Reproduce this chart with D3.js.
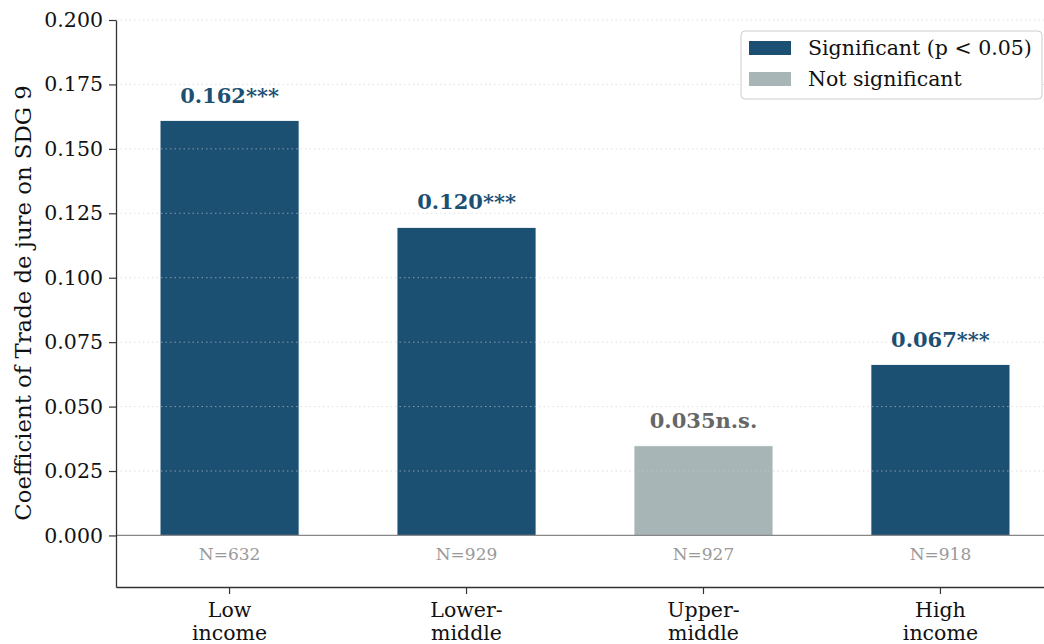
<!DOCTYPE html>
<html>
<head>
<meta charset="utf-8">
<script src="https://cdn.jsdelivr.net/npm/d3@7"></script>
<style>
  body { margin: 0; background: #fff; }
  svg { display: block; }
</style>
</head>
<body>
<div id="chart"></div>
<script>
// Data
var groups = [["Low", "income"], ["Lower-", "middle"], ["Upper-", "middle"], ["High", "income"]];
var coefs = [0.161, 0.1195, 0.0348, 0.0663];
var coefLabels = ["0.162***", "0.120***", "0.035n.s.", "0.067***"];
var significant = [true, true, false, true];
var sampleSizes = [632, 929, 927, 918];
var yTicks = [0, 0.025, 0.05, 0.075, 0.1, 0.125, 0.15, 0.175, 0.2];

var width = 1044, height = 644;
// plot area runs a little past the right edge of the picture
var m = { left: 116, top: 20, right: -10, bottom: 57 };

var colSig = "#1c5073", colNs = "#a8b5b6";
var serif = "DejaVu Serif, serif";
var fs = "20.5px";

var svg = d3.select("#chart").append("svg")
    .attr("width", width)
    .attr("height", height);

var x = d3.scaleBand()
    .domain(d3.range(groups.length))
    .range([m.left, width - m.right])
    .paddingInner(0.4135)
    .paddingOuter(0.186);

var y = d3.scaleLinear()
    .domain([-0.02, 0.2])
    .range([height - m.bottom, m.top]);

// bars
svg.selectAll("rect.bar")
    .data(coefs)
    .enter().append("rect")
    .attr("class", "bar")
    .attr("x", function(d, i) { return x(i); })
    .attr("width", x.bandwidth())
    .attr("y", function(d) { return y(d); })
    .attr("height", function(d) { return y(0) - y(d); })
    .attr("fill", function(d, i) { return significant[i] ? colSig : colNs; })
    .attr("stroke", "#fff")
    .attr("stroke-width", 0.8);

// dotted grid (drawn over bars, faint)
svg.append("g")
    .selectAll("line")
    .data(yTicks)
    .enter().append("line")
    .attr("x1", m.left).attr("x2", width)
    .attr("y1", function(d) { return y(d); })
    .attr("y2", function(d) { return y(d); })
    .attr("stroke", "#cccccc")
    .attr("stroke-opacity", 0.6)
    .attr("stroke-dasharray", "1.5,3");

// zero line
svg.append("line")
    .attr("x1", m.left).attr("x2", width)
    .attr("y1", y(0)).attr("y2", y(0))
    .attr("stroke", "#888")
    .attr("stroke-width", 1.2);

// coefficient labels
svg.selectAll("text.coef")
    .data(coefs)
    .enter().append("text")
    .attr("class", "coef")
    .attr("x", function(d, i) { return x(i) + x.bandwidth() / 2; })
    .attr("y", function(d) { return y(d) - 18; })
    .attr("text-anchor", "middle")
    .style("font-family", serif)
    .style("font-size", "21px")
    .style("font-weight", "bold")
    .attr("fill", function(d, i) { return significant[i] ? "#1c5073" : "#666666"; })
    .text(function(d, i) { return coefLabels[i]; });

// N labels
svg.selectAll("text.n")
    .data(sampleSizes)
    .enter().append("text")
    .attr("class", "n")
    .attr("x", function(d, i) { return x(i) + x.bandwidth() / 2; })
    .attr("y", y(0) + 25)
    .attr("text-anchor", "middle")
    .style("font-family", serif)
    .style("font-size", "17px")
    .attr("fill", "#999")
    .text(function(d) { return "N=" + d; });

// y axis
var yAxis = svg.append("g")
    .attr("transform", "translate(" + m.left + ",0)")
    .call(d3.axisLeft(y).tickValues(yTicks).tickFormat(d3.format(".3f"))
      .tickSize(7).tickSizeOuter(0).tickPadding(6));
yAxis.select(".domain").attr("stroke", "#333").attr("stroke-width", 1.3);
yAxis.selectAll(".tick line").attr("stroke", "#333").attr("stroke-width", 1.2);
yAxis.selectAll("text")
    .style("font-family", serif)
    .style("font-size", fs)
    .attr("fill", "#111");

// x axis
var xAxis = svg.append("g")
    .attr("transform", "translate(0," + y(-0.02) + ")")
    .call(d3.axisBottom(x).tickSize(7).tickSizeOuter(0).tickFormat(""));
xAxis.select(".domain").attr("stroke", "#333").attr("stroke-width", 1.3);
xAxis.selectAll(".tick line").attr("stroke", "#333").attr("stroke-width", 1.2);
xAxis.selectAll(".tick").each(function(d) {
  var t = d3.select(this).append("text")
      .attr("text-anchor", "middle")
      .attr("fill", "#111")
      .style("font-family", serif)
      .style("font-size", fs);
  t.append("tspan").attr("x", 0).attr("y", 30).text(groups[d][0]);
  t.append("tspan").attr("x", 0).attr("y", 53).text(groups[d][1]);
});

// y title
svg.append("text")
    .attr("transform", "translate(31,303) rotate(-90)")
    .attr("text-anchor", "middle")
    .style("font-family", serif)
    .style("font-size", "22.8px")
    .attr("fill", "#111")
    .text("Coefficient of Trade de jure on SDG 9");

// legend
var legendItems = [
  { label: "Significant (p < 0.05)", color: colSig },
  { label: "Not significant", color: colNs }
];
var lg = svg.append("g").attr("transform", "translate(741,31)");
lg.append("rect")
    .attr("width", 301).attr("height", 68)
    .attr("rx", 4)
    .attr("fill", "#fff").attr("fill-opacity", 0.85)
    .attr("stroke", "#ccc");
var li = lg.selectAll("g.item")
    .data(legendItems)
    .enter().append("g")
    .attr("transform", function(d, i) { return "translate(8," + (10 + i * 31) + ")"; });
li.append("rect")
    .attr("width", 42).attr("height", 14)
    .attr("fill", function(d) { return d.color; });
li.append("text")
    .attr("x", 59).attr("y", 14)
    .style("font-family", serif)
    .style("font-size", fs)
    .attr("fill", "#111")
    .text(function(d) { return d.label; });
</script>
</body>
</html>
